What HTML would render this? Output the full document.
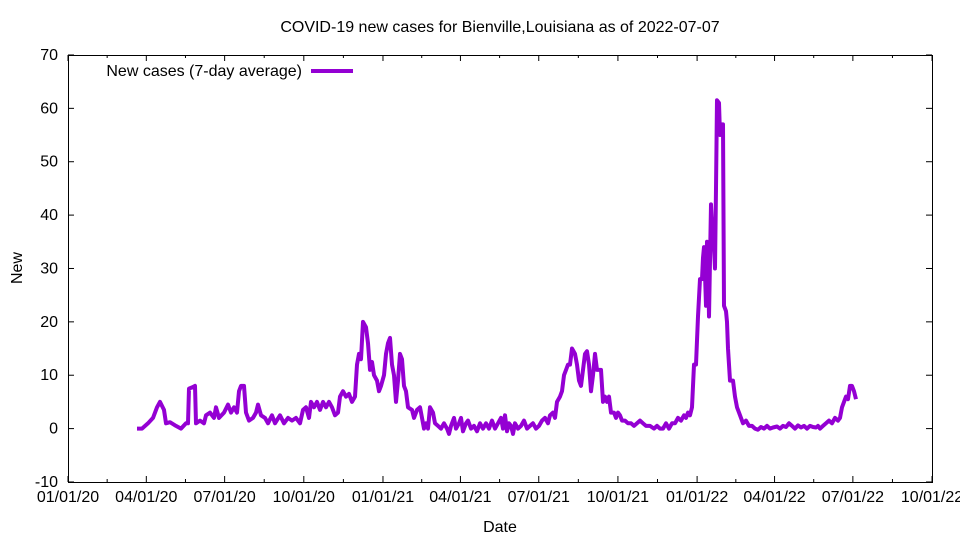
<!DOCTYPE html>
<html><head><meta charset="utf-8"><style>
html,body{margin:0;padding:0;background:#fff;}
svg text{font-family:"Liberation Sans",sans-serif;font-size:16px;fill:#000;}
</style></head><body>
<svg id="s" width="960" height="540" xmlns="http://www.w3.org/2000/svg">
<rect x="0" y="0" width="960" height="540" fill="#fff"/>
<g id="ax" stroke="#000" stroke-width="1" fill="none"></g>
<rect x="68.5" y="55.5" width="864" height="427" fill="none" stroke="#000"/>
<text x="500" y="32" text-anchor="middle">COVID-19 new cases for Bienville,Louisiana as of 2022-07-07</text>
<text x="500" y="532" text-anchor="middle">Date</text>
<text x="22" y="268" text-anchor="middle" transform="rotate(-90 22 268)">New</text>
<text x="302" y="76" text-anchor="end">New cases (7-day average)</text>
<line x1="311" y1="71" x2="353" y2="71" stroke="#9400d3" stroke-width="4"/>
<g id="lbl"></g>
<polyline id="pl" fill="none" stroke="#9400d3" stroke-width="4" stroke-linejoin="round"/>
</svg>
<script>
var ax=document.getElementById('ax'),lbl=document.getElementById('lbl'),ns='http://www.w3.org/2000/svg';
function el(p,t,a,txt){var e=document.createElementNS(ns,t);for(var k in a)e.setAttribute(k,a[k]);if(txt!==undefined)e.textContent=txt;p.appendChild(e);return e;}
function Y(v){return 428.6-v*5.3375;}
for(var v=-10;v<=70;v+=10){var y=Y(v);el(ax,'line',{x1:68,y1:y,x2:74,y2:y});el(ax,'line',{x1:932,y1:y,x2:926,y2:y});el(lbl,'text',{x:58,y:y+5,'text-anchor':'end'},v);}
var ld=['01/01/20','04/01/20','07/01/20','10/01/20','01/01/21','04/01/21','07/01/21','10/01/21','01/01/22','04/01/22','07/01/22','10/01/22'];
var days=[0,91,182,274,366,456,547,639,731,821,912,1004];
for(var i=0;i<12;i++){var x=68+days[i]*0.8606;el(ax,'line',{x1:x,y1:482,x2:x,y2:476});el(ax,'line',{x1:x,y1:55,x2:x,y2:61});el(lbl,'text',{x:x,y:502,'text-anchor':'middle'},ld[i]);
if(i<11){var xm=68+(days[i]+days[i+1])/2*0.8606;el(ax,'line',{x1:xm,y1:482,x2:xm,y2:479});el(ax,'line',{x1:xm,y1:55,x2:xm,y2:58});}}
var P=[[137,0],[142,0],[148,1],[153,2],[157,4],[160,5],[164,3.5],[166,1],[170,1.2],[176,0.5],[181,0],[186,1],[188,1],[189,7.5],[193,7.8],[195,8],[196,1],[200,1.5],[204,1],[206,2.5],[210,3],[214,2],[216,4],[219,2],[224,3],[228,4.5],[231,3],[234,4],[237,3],[239,7],[241,8],[244,8],[246,3],[249,1.5],[253,2],[256,3],[258,4.5],[261,2.5],[265,2],[268,1],[272,2.5],[275,1],[280,2.5],[284,1],[288,2],[292,1.5],[296,2],[300,1],[303,3.5],[306,4],[309,2],[311,5],[314,4],[317,5],[320,3.5],[323,5],[326,4],[329,5],[332,4],[335,2.5],[338,3],[340,6],[343,7],[346,6],[349,6.5],[352,5],[355,6],[357,12],[359,14],[361,13],[363,20],[366,19],[368,16],[370,11],[372,12.5],[374,10],[377,9],[379,7],[381,8],[384,10],[386,14],[388,16],[390,17],[392,12],[394,10],[396,5],[398,9],[400,14],[402,13],[404,8],[406,7],[408,4],[412,3.5],[414,2],[417,3.5],[420,4],[422,2],[424,0],[426,1],[428,0],[430,4],[433,3],[435,1],[438,0.5],[441,0],[444,1],[447,0],[449,-1],[451,0.5],[454,2],[456,0],[459,1],[461,2],[463,-0.5],[466,1],[468,1.5],[471,0],[474,0.5],[477,-0.5],[480,1],[483,0],[486,1],[489,0],[492,1.5],[495,0],[498,1],[501,2],[503,0],[505,2.5],[507,-0.5],[509,1],[511,0.5],[513,-1],[515,1],[518,0],[521,0.5],[524,1.5],[527,0],[530,0.5],[533,1],[536,0],[539,0.5],[542,1.5],[545,2],[548,1],[550,2.5],[553,3],[555,2],[557,5],[560,6],[562,7],[564,10],[566,11],[568,12],[570,12],[572,15],[575,14],[577,12],[579,9],[581,8],[583,11],[585,14],[587,14.5],[589,12],[591,7],[593,10],[595,14],[597,11],[599,11],[601,11],[603,5],[605,6],[607,5],[609,6],[611,3],[614,3],[616,2],[618,3],[620,2.5],[622,1.5],[625,1.5],[628,1],[631,1],[634,0.5],[637,1],[640,1.5],[643,1],[646,0.5],[650,0.5],[654,0],[657,0.5],[660,0],[663,0],[666,1],[669,0],[672,1],[675,1],[678,2],[681,1.5],[684,2.5],[686,2],[688,3],[690,2.5],[692,4],[694,12],[696,12],[698,21],[700,28],[702,28],[703,32],[704,34],[705,29],[706,23],[707,35],[708,32],[709,21],[711,42],[712,38],[714,34],[715,30],[716,45],[717,61.5],[719,61],[720,55],[721,57],[723,57],[724,23],[726,22],[727,20],[728,15],[729,12],[730,9],[733,9],[735,6],[737,4],[739,3],[741,2],[743,1],[746,1.5],[749,0.5],[752,0.5],[755,0],[758,-0.2],[761,0.3],[764,0],[767,0.5],[770,0],[773,0.2],[777,0.4],[780,0],[783,0.5],[786,0.3],[789,1],[792,0.5],[795,0],[798,0.6],[801,0.2],[804,0.5],[807,0],[810,0.5],[813,0.3],[816,0.2],[818,0.5],[820,0],[823,0.5],[826,1],[829,1.5],[832,1],[835,2],[838,1.5],[840,2],[842,4],[844,5],[846,6],[848,5.5],[850,8],[852,8],[854,7],[856,5.5]];
document.getElementById('pl').setAttribute('points',P.map(function(p){return p[0]+','+Y(p[1]).toFixed(1);}).join(' '));
</script>
</body></html>
